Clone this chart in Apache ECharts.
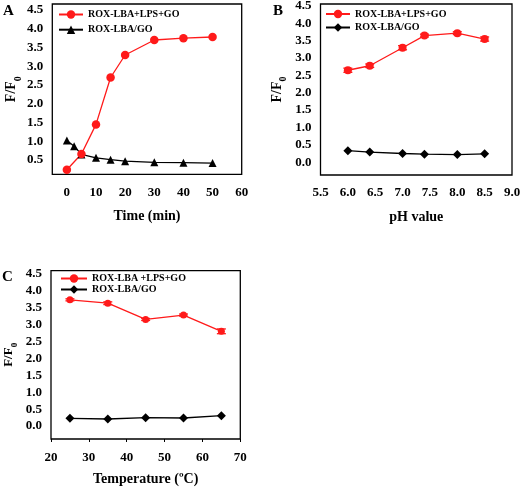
<!DOCTYPE html>
<html><head><meta charset="utf-8">
<script src="https://cdn.jsdelivr.net/npm/echarts@6/dist/echarts.min.js"></script>
<style>html,body{margin:0;padding:0;background:#fff}#c{width:520px;height:490px}</style>
</head><body><div id="c"></div><script>
const FONT = '"Liberation Serif","Times New Roman",serif';

// ---- Panel A: time course ----
const timeRedA = [0, 5, 10, 15, 20, 30, 40, 50];
const redA = [0.24, 0.66, 1.45, 2.7, 3.3, 3.7, 3.75, 3.78];
const timeBlackA = [0, 2.5, 5, 10, 15, 20, 30, 40, 50];
const blackA = [1.02, 0.87, 0.65, 0.56, 0.51, 0.47, 0.44, 0.43, 0.42];
const xTicksA = [0, 10, 20, 30, 40, 50, 60];
const yTicksA = [0.5, 1.0, 1.5, 2.0, 2.5, 3.0, 3.5, 4.0, 4.5];

// ---- Panel B: pH ----
const pH = [6.0, 6.4, 7.0, 7.4, 8.0, 8.5];
const redB = [2.65, 2.78, 3.3, 3.65, 3.72, 3.55];
const redBErr = [0.06, 0.05, 0.06, 0.04, 0.04, 0.06];
const blackB = [0.33, 0.29, 0.25, 0.23, 0.22, 0.24];
const yTicksBC = [0.0, 0.5, 1.0, 1.5, 2.0, 2.5, 3.0, 3.5, 4.0, 4.5];

// ---- Panel C: temperature ----
const temp = [25, 35, 45, 55, 65];
const redC = [3.73, 3.63, 3.15, 3.28, 2.8];
const redCErr = [0.03, 0.04, 0.03, 0.03, 0.07];
const blackC = [0.23, 0.21, 0.25, 0.24, 0.31];

const nameRed = 'ROX-LBA+LPS+GO';
const nameBlack = 'ROX-LBA/GO';
const nameRedC = 'ROX-LBA +LPS+GO';

const RED = '#ff1a1a';
const zip = (xs, ys) => xs.map((x, i) => [x, ys[i]]);
const lblStyle = {fontFamily: FONT, fontWeight: 'bold', fontSize: 13, color: '#000'};

function xAxis(gi, min, max, opts) {
  return Object.assign({
    type: 'value', gridIndex: gi, min: min, max: max,
    axisLine: {show: false, onZero: false}, axisTick: {show: false}, splitLine: {show: false},
    nameLocation: 'middle', nameGap: 35,
    nameTextStyle: {fontFamily: FONT, fontWeight: 'bold', fontSize: 14, color: '#000'}
  }, opts);
}
function yAxis(gi, min, max, ticks, gap, fs) {
  return {
    type: 'value', gridIndex: gi, min: min, max: max,
    axisLine: {show: false, onZero: false}, axisTick: {show: false}, splitLine: {show: false},
    axisLabel: Object.assign({customValues: ticks, margin: 9, formatter: v => v.toFixed(1)}, lblStyle),
    name: '{a|F/F}{b|0}', nameLocation: 'middle', nameGap: gap,
    nameTextStyle: {rich: {
      a: {fontFamily: FONT, fontWeight: 'bold', fontSize: fs, lineHeight: fs, verticalAlign: 'top', color: '#000'},
      b: {fontFamily: FONT, fontWeight: 'bold', fontSize: fs - 4, lineHeight: fs - 4, padding: [fs * 0.6, 0, 0, 0], verticalAlign: 'top', color: '#000'}
    }}
  };
}
function errSeries(xs, ys, es, gi, color) {
  return {
    type: 'custom', xAxisIndex: gi, yAxisIndex: gi, silent: true, z: 1,
    data: xs.map((x, i) => [x, ys[i], es[i]]),
    encode: {x: 0, y: 1},
    renderItem(params, api) {
      const x = api.value(0), y = api.value(1), e = api.value(2);
      const hi = api.coord([x, y + e]), lo = api.coord([x, y - e]);
      const w = 4.5, st = {stroke: color, lineWidth: 1.3};
      return {type: 'group', children: [
        {type: 'line', shape: {x1: hi[0], y1: hi[1], x2: lo[0], y2: lo[1]}, style: st},
        {type: 'line', shape: {x1: hi[0] - w, y1: hi[1], x2: hi[0] + w, y2: hi[1]}, style: st},
        {type: 'line', shape: {x1: lo[0] - w, y1: lo[1], x2: lo[0] + w, y2: lo[1]}, style: st}
      ]};
    }
  };
}
function lineSeries(name, gi, data, color, symbol, size) {
  return {
    name: name, type: 'line', xAxisIndex: gi, yAxisIndex: gi, data: data,
    symbol: symbol, symbolSize: size, color: color,
    lineStyle: {color: color, width: 1.3}, itemStyle: {color: color},
    z: 3
  };
}
const legendText = {fontFamily: FONT, fontWeight: 'bold', fontSize: 10, lineHeight: 10, color: '#000'};
function legend(left, top, gap, names, w) {
  return {
    left: left, top: top, orient: 'vertical', padding: 0, itemGap: gap,
    itemWidth: w, itemHeight: 10.5, selectedMode: false, data: names,
    formatter: n => n.split('#')[0], textStyle: legendText
  };
}

const option = {
  animation: false,
  backgroundColor: '#fff',
  grid: [
    {left: 52.3, top: 4, width: 189.4, height: 170.3, show: true, borderColor: '#000', borderWidth: 1.3, backgroundColor: 'transparent', outerBoundsMode: 'none'},
    {left: 320.5, top: 4, width: 191.5, height: 171, show: true, borderColor: '#000', borderWidth: 1.3, backgroundColor: 'transparent', outerBoundsMode: 'none'},
    {left: 51, top: 270.7, width: 189.3, height: 168.3, show: true, borderColor: '#000', borderWidth: 1.3, backgroundColor: 'transparent', outerBoundsMode: 'none'}
  ],
  xAxis: [
    xAxis(0, -5, 60, {name: 'Time (min)', axisLabel: Object.assign({customValues: xTicksA, margin: 12}, lblStyle)}),
    xAxis(1, 5.5, 9.0, {name: 'pH value', interval: 0.5, axisLabel: Object.assign({margin: 11, formatter: v => v.toFixed(1)}, lblStyle)}),
    xAxis(2, 20, 70, {name: 'Temperature (ºC)', nameGap: 33, interval: 10,
      axisTick: {show: true, length: 3, lineStyle: {color: '#000', width: 1}},
      axisLabel: Object.assign({margin: 12}, lblStyle)})
  ],
  yAxis: [
    yAxis(0, 0.12, 4.66, yTicksA, 33, 14),
    yAxis(1, -0.37, 4.56, yTicksBC, 36, 14),
    yAxis(2, -0.38, 4.59, yTicksBC, 36, 13)
  ],
  legend: [
    legend(58, 9.5, 5.2, [nameRed, nameBlack], 24),
    legend(325, 9, 3.5, [nameRed + '#B', nameBlack + '#B'], 24),
    legend(60, 273.5, 1, [nameRedC, nameBlack + '#C'], 26)
  ],
  graphic: [
    {type: 'text', left: 3, top: 4, style: {text: 'A', font: 'bold 15px ' + FONT, fill: '#000'}},
    {type: 'text', left: 273, top: 4, style: {text: 'B', font: 'bold 15px ' + FONT, fill: '#000'}},
    {type: 'text', left: 2, top: 270, style: {text: 'C', font: 'bold 15px ' + FONT, fill: '#000'}}
  ],
  series: [
    lineSeries(nameBlack, 0, zip(timeBlackA, blackA), '#000', 'triangle', 8),
    lineSeries(nameRed, 0, zip(timeRedA, redA), RED, 'circle', 8.5),
    errSeries(pH, redB, redBErr, 1, RED),
    lineSeries(nameRed + '#B', 1, zip(pH, redB), RED, 'circle', 8),
    lineSeries(nameBlack + '#B', 1, zip(pH, blackB), '#000', 'diamond', 9),
    errSeries(temp, redC, redCErr, 2, RED),
    lineSeries(nameRedC, 2, zip(temp, redC), RED, 'circle', 7),
    lineSeries(nameBlack + '#C', 2, zip(temp, blackC), '#000', 'diamond', 9)
  ]
};
const chart = echarts.init(document.getElementById('c'), null, {renderer: 'canvas'});
chart.setOption(option);
</script></body></html>
